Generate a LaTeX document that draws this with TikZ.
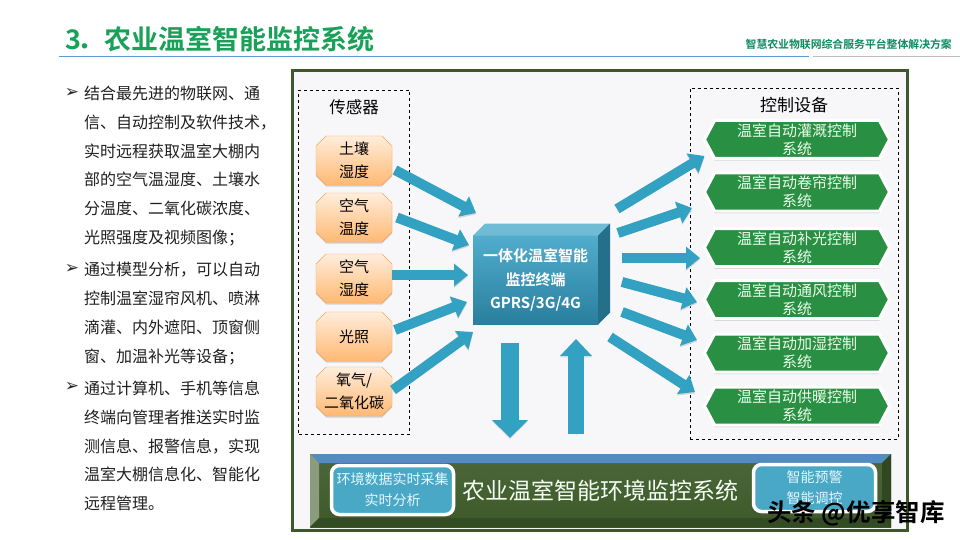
\documentclass[tikz,border=0pt]{standalone}
\usepackage{fontspec}
\setmainfont{Noto Sans CJK SC}[BoldFont=* Bold]
\newfontfamily\symbolfont{DejaVu Sans}
\usepackage{tikz}
\usetikzlibrary{positioning}
\usetikzlibrary{arrows.meta}
\usetikzlibrary{shapes.misc,shapes.symbols}
\usetikzlibrary{shadows}
\definecolor{green(title)}{rgb}{0.10, 0.63, 0.35}
\definecolor{green(header)}{rgb}{0.05, 0.54, 0.38}
\definecolor{blue(rule)}{rgb}{0.36, 0.61, 0.84}
\definecolor{green(panel)}{rgb}{0.24, 0.35, 0.16}
\definecolor{white(panel)}{rgb}{0.97, 0.97, 0.975}
\definecolor{green(device)}{rgb}{0.16, 0.56, 0.26}
\definecolor{blue(arrow)}{rgb}{0.20, 0.63, 0.76}
\definecolor{blue(face)}{rgb}{0.20, 0.62, 0.77}
\definecolor{blue(box)}{rgb}{0.29, 0.66, 0.78}
\tikzset {
        sensornode/.style={align=center, inner sep=0pt, outer sep=0pt, chamfered rectangle, chamfered rectangle xsep=5pt, chamfered rectangle ysep=5pt, draw=orange!70!brown!70, top color=orange!14, bottom color=orange!55, minimum width=76pt, minimum height=49pt, font=\fontsize{15}{23}\selectfont, drop shadow={shadow xshift=0pt, shadow yshift=-1.5pt, fill=black!40, opacity=.4}},
        devicenode/.style={align=center, inner sep=0pt, outer sep=0pt, signal, signal to=west and east, signal pointer angle=124, draw=white, line width=3pt, fill=green(device), text=white!92!green, minimum width=185pt, minimum height=38pt, font=\fontsize{15}{18}\selectfont, drop shadow={shadow xshift=0pt, shadow yshift=-2pt, fill=black!50, opacity=.45}},
        dashbox/.style={draw, dashed, line width=0.7pt},
        boxtitle/.style={inner sep=0pt, font=\fontsize{17}{20}\selectfont},
        para/.style={anchor=west, align=left, inner sep=0pt, text=black!88, font=\fontsize{16}{28.8}\selectfont},
        tick/.style={inner sep=0pt, text=black!85, font=\symbolfont\bfseries\fontsize{17}{19}\selectfont},
        blockarrow/.style={draw=blue(arrow), line width=10pt, -{Triangle[length=14pt,width=22pt]}, preaction={draw=black!16, transform canvas={yshift=-1.5pt}}},
        bigarrow/.style={draw=blue(arrow), line width=#1, preaction={draw=black!10, transform canvas={yshift=-1.5pt}}},
        infobox/.style={align=center, inner sep=0pt, outer sep=0pt, rounded corners=8pt, draw=white, line width=3.5pt, fill=blue(box), text=white!90!cyan, font=\fontsize{14}{21}\selectfont}
}
\begin{document}
\begin{tikzpicture}[x=1pt, y=-1pt]
            \useasboundingbox (0,0) rectangle (960,540);
            \node[anchor=west, inner sep=0pt, text=green(title), font=\bfseries\fontsize{27}{30}\selectfont] (Title) at (65,39) {3\hspace{-4pt}．农业温室智能监控系统};
            \node[anchor=east, inner sep=0pt, text=green(header), font=\bfseries\fontsize{10.85}{13}\selectfont] (Header) at (952,44) {智慧农业物联网综合服务平台整体解决方案};
            \fill[blue(rule)] (59,56) rectangle (809,57.5);
            \fill[black!25] (813,56) rectangle (960,57.5);

            \node[para] (TextA) at (84,166) {结合最先进的物联网、通\\信、自动控制及软件技术，\\实时远程获取温室大棚内\\部的空气温湿度、土壤水\\分温度、二氧化碳浓度、\\光照强度及视频图像；};
            \node[para] (TextB) at (84,313.5) {通过模型分析，可以自动\\控制温室湿帘风机、喷淋\\滴灌、内外遮阳、顶窗侧\\窗、加温补光等设备；};
            \node[para] (TextC) at (84,446) {通过计算机、手机等信息\\终端向管理者推送实时监\\测信息、报警信息，实现\\温室大棚信息化、智能化\\远程管理。};
            \node[tick] (TickA) at (72,93) {➢};
            \node[tick] (TickB) at (72,269) {➢};
            \node[tick] (TickC) at (72,387) {➢};

            \node[draw=green(panel), line width=3pt, fill=white(panel), outer sep=0pt, inner sep=0pt, minimum width=615pt, minimum height=460pt] (Panel) at (600,300.5) {};
            \node[dashbox, outer sep=0pt, inner sep=0pt, minimum width=111pt, minimum height=344pt] (SensorBox) at (354,262) {};
            \node[dashbox, outer sep=0pt, inner sep=0pt, minimum width=208pt, minimum height=351pt] (DeviceBox) at (794,263.5) {};
            \node[boxtitle, font=\fontsize{16.5}{20}\selectfont] (SensorTitle) at (354,107) {传感器};
            \node[boxtitle] (DeviceTitle) at (794,105) {控制设备};

            \node[sensornode] (Soil) at (354,160.5) {土壤\\湿度};
            \node[sensornode, below=8pt of Soil] (AirTemp) {空气\\温度};
            \node[sensornode, below=12pt of AirTemp] (AirHum) {空气\\湿度};
            \node[sensornode, below=9pt of AirHum] (Light) {光照};
            \node[sensornode, below=6pt of Light] (Gas) {氧气/\\二氧化碳};

            \node[devicenode] (Irrigation) at (797,139.5) {温室自动灌溉控制\\系统};
            \node[devicenode, below=14.5pt of Irrigation] (Curtain) {温室自动卷帘控制\\系统};
            \node[devicenode, below=17.5pt of Curtain] (Fill) {温室自动补光控制\\系统};
            \node[devicenode, below=14pt of Fill] (Wind) {温室自动通风控制\\系统};
            \node[devicenode, below=15.5pt of Wind] (Humid) {温室自动加湿控制\\系统};
            \node[devicenode, below=15pt of Humid] (Heat) {温室自动供暖控制\\系统};

            \node[outer sep=0pt, inner sep=0pt, top color=blue(face)!85!white, bottom color=blue(face)!80!black, minimum width=125pt, minimum height=89pt, align=center, text=white, font=\bfseries\fontsize{15}{23.5}\selectfont] (Terminal) at (535.5,280) {一体化温室智能\\监控终端\\GPRS/3G/4G};
            \fill[blue(face)!70!white] (Terminal.north west) -- ++(12,-12) -- ++(125,0) -- (Terminal.north east) -- cycle;
            \fill[blue(face)!70!black] (Terminal.north east) -- ++(12,-12) -- ++(0,89) -- (Terminal.south east) -- cycle;

            \node[outer sep=0pt, inner sep=0pt, top color=green(panel)!92!white, bottom color=green(panel), minimum width=581pt, minimum height=73pt] (Base) at (600.5,490.5) {};
            \fill[blue(rule)!90!black] (Base.north west) -- (Base.north east) -- ++(-9,9) -- ++(-563,0) -- cycle;
            \fill[green(panel)!60!white] (Base.north west) -- ++(9,9) -- ++(0,55) -- (Base.south west) -- cycle;
            \fill[green(panel)!80!black] (Base.north east) -- ++(-9,9) -- ++(0,55) -- (Base.south east) -- cycle;
            \fill[green(panel)!85!black] (Base.south west) -- ++(9,-9) -- ++(563,0) -- (Base.south east) -- cycle;
            \node[inner sep=0pt, text=white!95!green, font=\fontsize{23}{26}\selectfont] (BaseTitle) at (600,491) {农业温室智能环境监控系统};
            \node[infobox, minimum width=122pt, minimum height=49pt] (Collect) at (392.5,490) {环境数据实时采集\\实时分析};
            \node[infobox, minimum width=122pt, minimum height=47pt] (Warn) at (814.5,488) {智能预警\\智能调控};

            \draw[blockarrow] ([xshift=3pt,yshift=-9.5pt]Soil.east) -- ([xshift=3pt,yshift=22.5pt]Terminal.north west);
            \draw[blockarrow] ([xshift=5pt]AirTemp.east) -- ([xshift=-4pt,yshift=-9.5pt]Terminal.north west);
            \draw[blockarrow] ([yshift=3.5pt]AirHum.east) -- ([xshift=-5pt,yshift=5pt]Terminal.west);
            \draw[blockarrow] ([xshift=3pt,yshift=6.5pt]Light.east) -- ([xshift=-6pt,yshift=-22pt]Terminal.west);
            \draw[blockarrow] ([xshift=6pt,yshift=-18pt]Gas.north east) -- ([yshift=-7.5pt]Terminal.south west);

            \draw[blockarrow] ([xshift=19pt,yshift=26.5pt]Terminal.north east) -- ([yshift=-16.5pt]Irrigation.west);
            \draw[blockarrow] ([xshift=20pt,yshift=2.5pt]Terminal.north east) -- ([xshift=-12.5pt,yshift=-16pt]Curtain.west);
            \draw[blockarrow] ([xshift=24pt,yshift=22pt]Terminal.east) -- ([xshift=-4.5pt,yshift=-10.5pt]Fill.west);
            \draw[blockarrow] ([xshift=24pt,yshift=-2pt]Terminal.east) -- ([xshift=-7.5pt,yshift=-2.5pt]Wind.west);
            \draw[blockarrow] ([xshift=24pt,yshift=-32pt]Terminal.east) -- ([xshift=-7.5pt,yshift=13pt]Humid.west);
            \draw[blockarrow] ([xshift=12pt,yshift=-12.5pt]Terminal.south east) -- ([xshift=-9.5pt,yshift=14pt]Heat.west);

            \draw[bigarrow=18pt, -{Triangle[length=18pt,width=35pt]}] ([xshift=-25.5pt,yshift=-18.5pt]Terminal.south) -- ([xshift=-25.5pt,yshift=16pt]Base.north -| Terminal.south);
            \draw[bigarrow=16pt, -{Triangle[length=17pt,width=31pt]}] ([xshift=40.5pt,yshift=20pt]Base.north -| Terminal.south) -- ([xshift=40.5pt,yshift=-14.5pt]Terminal.south);

            \node[inner sep=0pt, text=black, font=\bfseries\fontsize{24.5}{26}\selectfont] (Mark) at (856,513) {头条 @优享智库};
\end{tikzpicture}
\end{document}
